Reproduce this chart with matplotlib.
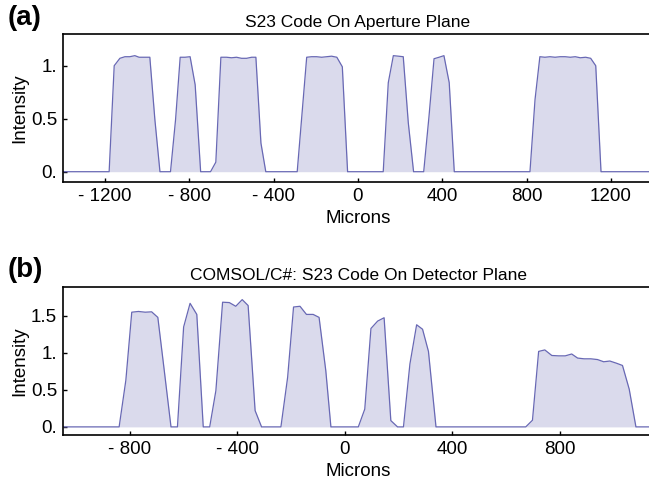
import matplotlib
matplotlib.use('Agg')
import matplotlib.pyplot as plt

# (a) S23 code on aperture plane
a_x = [-1400, -1180, -1156, -1129, -1105, -1082, -1058, -1038, -1012, -987, -963, -939,
       -889, -865, -843, -820, -796, -772, -746,
       -699, -674, -650, -623, -599, -576, -552, -528, -504, -484, -460, -437,
       -288, -243, -220, -196, -172, -148, -125, -100, -74, -49,
       120, 144, 168, 192, 215, 239, 264,
       312, 337, 361, 385, 408, 433, 457,
       816, 840, 863, 887, 911, 935, 959, 983, 1007, 1031, 1055, 1080, 1104, 1128, 1153, 1400]
a_y = [0, 0, 1.0, 1.07, 1.085, 1.085, 1.095, 1.08, 1.08, 1.08, 0.49, 0,
       0, 0.49, 1.08, 1.08, 1.085, 0.82, 0,
       0, 0.09, 1.08, 1.08, 1.075, 1.08, 1.07, 1.07, 1.08, 1.08, 0.27, 0,
       0, 1.08, 1.085, 1.085, 1.08, 1.085, 1.09, 1.08, 0.99, 0,
       0, 0.84, 1.095, 1.09, 1.085, 0.46, 0,
       0, 0.52, 1.066, 1.08, 1.095, 0.84, 0,
       0, 0.68, 1.085, 1.08, 1.085, 1.08, 1.085, 1.085, 1.08, 1.085, 1.075, 1.08, 1.07, 1.0, 0, 0]

# (b) COMSOL/C# result on detector plane
b_x = [-1050, -840, -815, -793, -768, -743, -719, -696, -672, -647, -623,
       -600, -576, -551, -527, -503, -480, -455, -430, -406, -382, -360, -334, -310,
       -238, -213, -191, -167, -143, -118, -96, -71, -52,
       50, 74, 97, 122, 146, 171, 196, 218, 242, 267, 289, 311, 339,
       673, 698, 721, 744, 770, 795, 820, 844, 866, 890, 915, 940, 963, 986, 1011, 1033, 1058, 1083, 1150]
b_y = [0, 0, 0.63, 1.55, 1.56, 1.55, 1.555, 1.48, 0.76, 0, 0,
       1.35, 1.67, 1.52, 0, 0, 0.49, 1.685, 1.68, 1.63, 1.72, 1.64, 0.22, 0,
       0, 0.67, 1.62, 1.63, 1.52, 1.52, 1.48, 0.76, 0,
       0, 0.24, 1.33, 1.43, 1.475, 0.085, 0, 0, 0.85, 1.38, 1.32, 1.02, 0,
       0, 0.09, 1.02, 1.04, 0.965, 0.96, 0.96, 0.985, 0.93, 0.92, 0.92, 0.91, 0.88, 0.89, 0.86, 0.83, 0.51, 0, 0]

a_ticks = [-1200, -800, -400, 0, 400, 800, 1200]
a_ticklabels = ['- 1200', '- 800', '- 400', '0', '400', '800', '1200']
a_yticks = [0, 0.5, 1]
a_yticklabels = ['0.', '0.5', '1.']
b_ticks = [-800, -400, 0, 400, 800]
b_ticklabels = ['- 800', '- 400', '0', '400', '800']
b_yticks = [0, 0.5, 1, 1.5]
b_yticklabels = ['0.', '0.5', '1.', '1.5']

plt.rcParams['font.family'] = ['Liberation Sans', 'DejaVu Sans']
line_c = '#6868b4'
fill_c = '#dadaec'

fig = plt.figure(figsize=(6.49, 4.91), dpi=100)
ax1 = fig.add_axes([0.0967, 0.6287, 0.9096, 0.3022])
ax2 = fig.add_axes([0.0966, 0.114, 0.911, 0.3014])


def style(ax, x, y, xlim, ylim, xt, xtl, yt, ytl, title):
    ax.fill_between(x, 0, y, color=fill_c, lw=0)
    ax.plot(x, y, color=line_c, lw=0.9)
    ax.set_xlim(*xlim)
    ax.set_ylim(*ylim)
    ax.set_xticks(xt, xtl)
    ax.set_yticks(yt, ytl)
    ax.tick_params(direction='in', length=3, width=1, labelsize=13.5, pad=4)
    ax.spines['right'].set_visible(False)
    for s in ['left', 'top', 'bottom']:
        ax.spines[s].set_linewidth(1.2)
    ax.set_xlabel('Microns', fontsize=13.5, labelpad=4)
    ax.set_ylabel('Intensity', fontsize=13.5, labelpad=2)
    ax.set_title(title, fontsize=12.5, pad=5)


style(ax1, a_x, a_y, (-1400, 1400), (-0.1, 1.3), a_ticks, a_ticklabels,
      a_yticks, a_yticklabels, 'S23 Code On Aperture Plane')
style(ax2, b_x, b_y, (-1050, 1150), (-0.11, 1.89), b_ticks, b_ticklabels,
      b_yticks, b_yticklabels, 'COMSOL/C#: S23 Code On Detector Plane')

fig.text(0.012, 0.963, '(a)', fontsize=20, fontweight='bold', va='center')
fig.text(0.012, 0.45, '(b)', fontsize=20, fontweight='bold', va='center')

fig.savefig('out.png', dpi=100)
